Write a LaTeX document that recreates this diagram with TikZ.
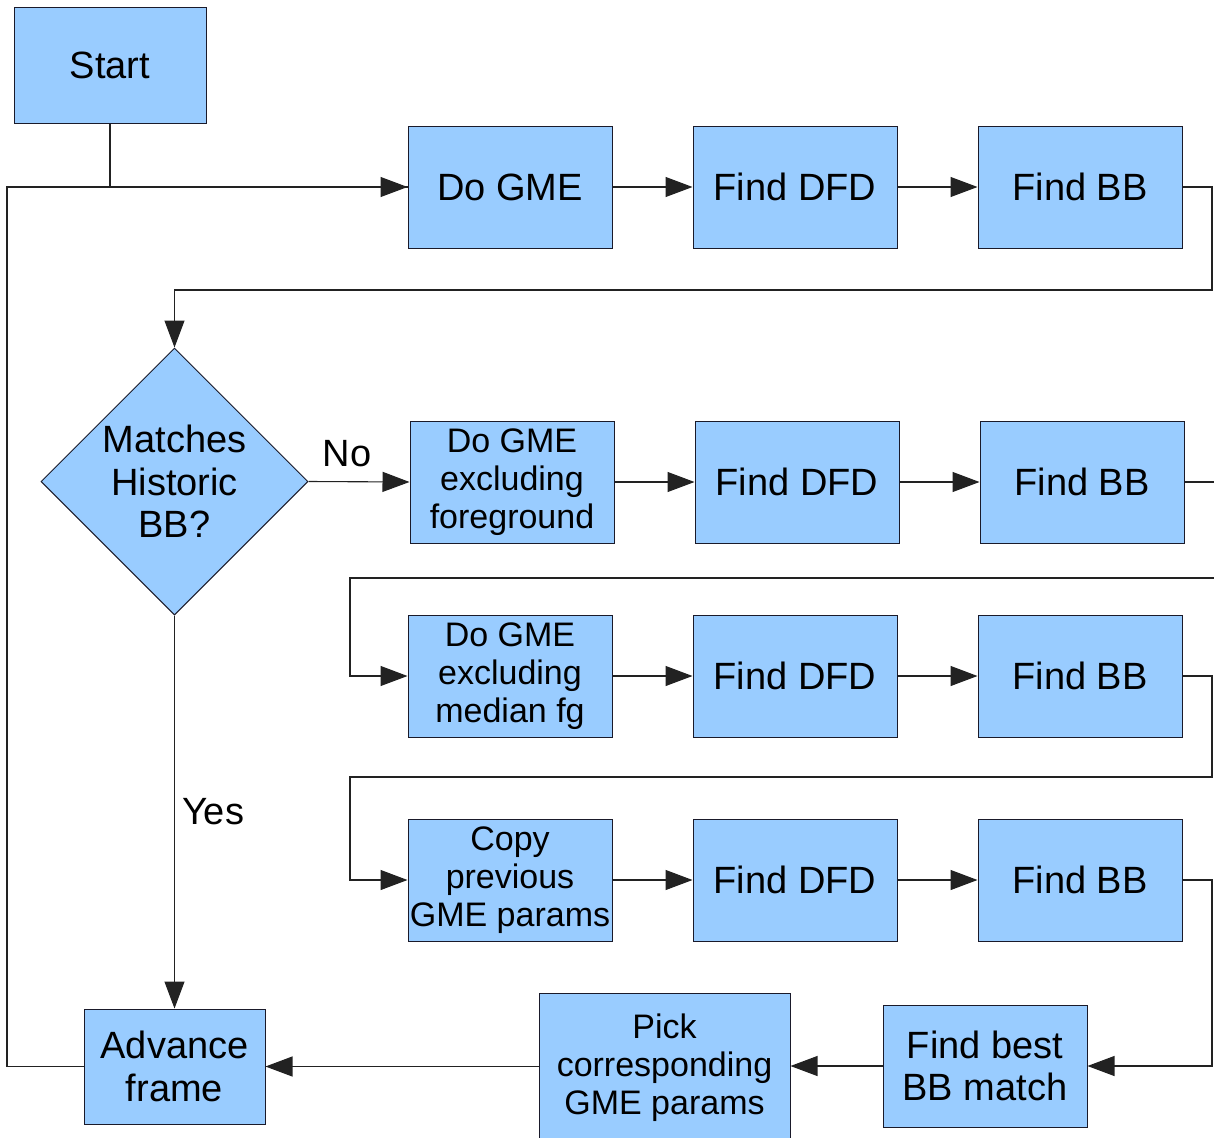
\documentclass[tikz,border=0pt]{standalone}
\usepackage{fontspec}
\setmainfont{Liberation Sans}
\usetikzlibrary{arrows.meta,shapes.geometric}
\definecolor{boxfill}{HTML}{99CCFF}
\definecolor{boxline}{HTML}{1A1A2A}
\definecolor{wire}{HTML}{222222}
\tikzset{
  box/.style={draw=boxline, fill=boxfill, line width=1pt, minimum width=204pt, minimum height=122pt,
    align=center, inner sep=0pt, font=\fontsize{38}{42.5}\selectfont},
  three/.style={font=\fontsize{34}{38}\selectfont},
  wire/.style={draw=wire, line width=1.1pt},
  arr/.style={wire, -{Triangle[length=27pt,width=20pt]}},
  lbl/.style={font=\fontsize{38}{42}\selectfont, inner sep=0pt}
}
\begin{document}
\begin{tikzpicture}[x=1pt,y=-1pt]
\useasboundingbox (0,0) rectangle (1214,1137);
\fill[white] (0,0) rectangle (1214,1137);
% nodes
\node[box, minimum width=192pt, minimum height=115pt] (start) at (110,65.5) {Start};
\node[box] (gme1) at (510,187) {Do GME};
\node[box] (dfd1) at (795,187) {Find DFD};
\node[box] (bb1) at (1080,187) {Find BB};
\node[diamond, aspect=1, draw=boxline, fill=boxfill, line width=1pt, minimum width=267pt, minimum height=267pt,
  inner sep=0pt, align=center, font=\fontsize{38}{42.5}\selectfont] (dec) at (174.5,481.5) {Matches\\Historic\\BB?};
\node[box, three] (gme2) at (512,482) {Do GME\\excluding\\foreground};
\node[box] (dfd2) at (797,482) {Find DFD};
\node[box] (bb2) at (1082,482) {Find BB};
\node[box, three] (gme3) at (510,676) {Do GME\\excluding\\median fg};
\node[box] (dfd3) at (795,676) {Find DFD};
\node[box] (bb3) at (1080,676) {Find BB};
\node[box, three] (gme4) at (510,880) {Copy\\previous\\GME params};
\node[box] (dfd4) at (795,880) {Find DFD};
\node[box] (bb4) at (1080,880) {Find BB};
\node[box, minimum width=181pt, minimum height=115pt] (adv) at (174.5,1066.5) {Advance\\frame};
\node[box, three, minimum width=251pt, minimum height=150pt] (pick) at (664.5,1068) {Pick\\corresponding\\GME params};
\node[box] (best) at (985,1066) {Find best\\BB match};
% coordinates
\coordinate (lx) at (7,187);
\coordinate (r1) at (1212,290);
\coordinate (e2) at (1240,482);
\coordinate (e3) at (1240,578);
\coordinate (c3) at (350,578);
\coordinate (r3) at (1212,777);
\coordinate (c4) at (350,777);
\coordinate (r4) at (1212,1066);
% connectors
\draw[wire] (adv.west) -| (lx) -- (gme1.west);
\draw[arr] (start.south) |- (gme1.west);
\draw[arr] (gme1.east) -- (dfd1.west);
\draw[arr] (dfd1.east) -- (bb1.west);
\draw[arr] (bb1.east) -| (r1) -| (dec.north);
\draw[arr] (dec.east) -- (gme2.west);
\draw[arr] (dec.south) -- (adv.north);
\draw[arr] (gme2.east) -- (dfd2.west);
\draw[arr] (dfd2.east) -- (bb2.west);
\draw[wire] (bb2.east) -- (e2);
\draw[arr] (e3) -- (c3) |- (gme3.west);
\draw[arr] (gme3.east) -- (dfd3.west);
\draw[arr] (dfd3.east) -- (bb3.west);
\draw[arr] (bb3.east) -| (r3) -- (c4) |- (gme4.west);
\draw[arr] (gme4.east) -- (dfd4.west);
\draw[arr] (dfd4.east) -- (bb4.west);
\draw[arr] (bb4.east) -| (r4) -- (best.east);
\draw[arr] (best.west) -- (pick.east |- best.west);
\draw[arr] (pick.west |- adv.east) -- (adv.east);
% labels
\node[lbl] (no) at (347,454) {No};
\node[lbl] (yes) at (213,812) {Yes};
\end{tikzpicture}
\end{document}
